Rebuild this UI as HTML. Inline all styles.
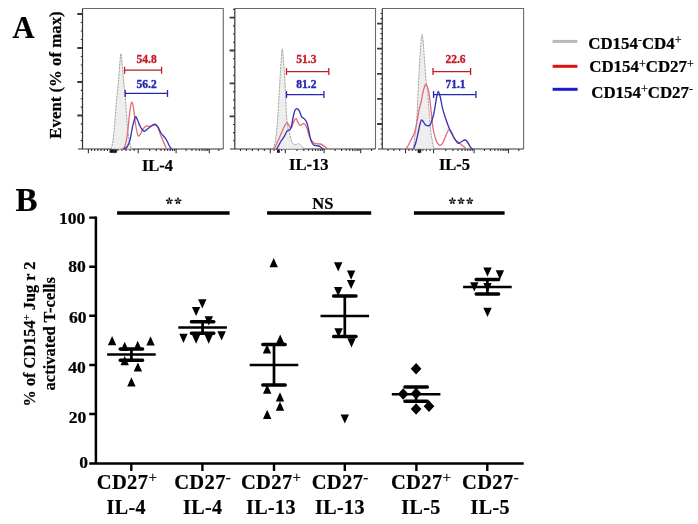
<!DOCTYPE html>
<html><head><meta charset="utf-8"><style>
html,body{margin:0;padding:0;background:#fff;}
svg{display:block;filter:blur(0.3px);}
text{font-family:"Liberation Serif",serif;font-weight:bold;}
text:not([fill]){stroke:#000;stroke-width:0.22px;}
</style></head><body>
<svg width="698" height="524" viewBox="0 0 698 524">
<rect width="698" height="524" fill="#fff"/>
<path d="M82.5 8.5H223.3V149" fill="none" stroke="#6a6a6a" stroke-width="1.1"/>
<path d="M77.3 14H82.5M77.3 48H82.5M77.3 82H82.5M77.3 115.5H82.5" stroke="#3a3a3a" stroke-width="1.8"/>
<path d="M80.7 22.5H82.5M80.7 31H82.5M80.7 39.5H82.5M80.7 56.5H82.5M80.7 65H82.5M80.7 73.5H82.5M80.7 90.38H82.5M80.7 98.75H82.5M80.7 107.12H82.5M80.7 123.88H82.5M80.7 132.25H82.5M80.7 140.62H82.5" stroke="#333" stroke-width="1.1"/>
<rect x="109.6" y="149" width="7.2" height="3.8" fill="#111"/>
<path d="M88.4 149V153.2M113.8 149V153.2M138.2 149V153.2M176.1 149V153.2M209.3 149V153.2M91.58 149V151M94.75 149V151M97.92 149V151M101.1 149V151M104.28 149V151M107.45 149V151M110.62 149V151M117.87 149V151M121.93 149V151M126 149V151M130.07 149V151M134.13 149V151M149.61 149V151M156.28 149V151M161.02 149V151M164.69 149V151M167.69 149V151M170.23 149V151M172.43 149V151M174.37 149V151M186.09 149V151M191.94 149V151M196.09 149V151M199.31 149V151M201.93 149V151M204.16 149V151M206.08 149V151M207.78 149V151M218.8 149V151" stroke="#333" stroke-width="1.1"/>
<path d="M82.5 8.5V149M78 149H223.3" fill="none" stroke="#333" stroke-width="1.2"/>
<path d="M234.8 8.5H375.5V149" fill="none" stroke="#6a6a6a" stroke-width="1.1"/>
<path d="M229.6 17.6H234.8M229.6 50.5H234.8M229.6 83.4H234.8M229.6 116.3H234.8" stroke="#3a3a3a" stroke-width="1.8"/>
<path d="M233 25.83H234.8M233 34.05H234.8M233 42.27H234.8M233 58.73H234.8M233 66.95H234.8M233 75.18H234.8M233 91.62H234.8M233 99.85H234.8M233 108.08H234.8M233 124.47H234.8M233 132.65H234.8M233 140.82H234.8M233 9.38H234.8" stroke="#333" stroke-width="1.1"/>
<rect x="277" y="149" width="2.8" height="3.8" fill="#111"/>
<path d="M270.3 149V153.2M285.3 149V153.2M324.1 149V153.2M360.7 149V153.2M240.47 149V151M246.43 149V151M252.4 149V151M258.37 149V151M264.33 149V151M274.05 149V151M277.8 149V151M281.55 149V151M296.98 149V151M303.81 149V151M308.66 149V151M312.42 149V151M315.49 149V151M318.09 149V151M320.34 149V151M322.32 149V151M335.12 149V151M341.56 149V151M346.14 149V151M349.68 149V151M352.58 149V151M355.03 149V151M357.15 149V151M359.03 149V151M371.6 149V151" stroke="#333" stroke-width="1.1"/>
<path d="M234.8 8.5V149M230 149H375.5" fill="none" stroke="#333" stroke-width="1.2"/>
<path d="M382.3 8.5H523.6V149" fill="none" stroke="#6a6a6a" stroke-width="1.1"/>
<path d="M377.1 23.6H382.3M377.1 48.7H382.3M377.1 73.8H382.3M377.1 98.9H382.3M377.1 124H382.3" stroke="#3a3a3a" stroke-width="1.8"/>
<path d="M380.5 28.62H382.3M380.5 33.64H382.3M380.5 38.66H382.3M380.5 43.68H382.3M380.5 53.72H382.3M380.5 58.74H382.3M380.5 63.76H382.3M380.5 68.78H382.3M380.5 78.82H382.3M380.5 83.84H382.3M380.5 88.86H382.3M380.5 93.88H382.3M380.5 103.92H382.3M380.5 108.94H382.3M380.5 113.96H382.3M380.5 118.98H382.3M380.5 129H382.3M380.5 134H382.3M380.5 139H382.3M380.5 144H382.3M380.5 18.58H382.3M380.5 13.56H382.3" stroke="#333" stroke-width="1.1"/>
<rect x="417.6" y="149" width="3.6" height="3.8" fill="#111"/>
<path d="M405.5 149V153.2M419.3 149V153.2M433.6 149V153.2M474.1 149V153.2M508.5 149V153.2M388.1 149V151M393.9 149V151M399.7 149V151M408.95 149V151M412.4 149V151M415.85 149V151M422.88 149V151M426.45 149V151M430.03 149V151M445.79 149V151M452.92 149V151M457.98 149V151M461.91 149V151M465.12 149V151M467.83 149V151M470.18 149V151M472.25 149V151M484.46 149V151M490.51 149V151M494.81 149V151M498.14 149V151M500.87 149V151M503.17 149V151M505.17 149V151M506.93 149V151M518.8 149V151" stroke="#333" stroke-width="1.1"/>
<path d="M382.3 8.5V149M378 149H523.6" fill="none" stroke="#333" stroke-width="1.2"/>
<path d="M111.2 149C111.5 147.58 112.42 144.7 113 140.5C113.58 136.3 114.15 130.08 114.7 123.8C115.25 117.52 115.68 109.78 116.3 102.8C116.92 95.82 117.8 88.7 118.4 81.9C119 75.1 119.48 66.72 119.9 62C120.32 57.28 120.55 53.6 120.9 53.6C121.25 53.6 121.53 57.28 122 62C122.47 66.72 123.07 75.1 123.7 81.9C124.33 88.7 125.22 95.82 125.8 102.8C126.38 109.78 126.62 117.52 127.2 123.8C127.78 130.08 128.58 136.3 129.3 140.5C130.02 144.7 131.13 147.58 131.5 149Z" fill="#eeeeee" stroke="#9c9c9c" stroke-width="0.9" stroke-dasharray="2.4 0.8"/>
<path d="M273.2 149C273.58 147.58 274.88 144 275.5 140.5C276.12 137 276.48 132.53 276.9 128C277.32 123.47 277.62 119.23 278 113.3C278.38 107.37 278.78 99.38 279.2 92.4C279.62 85.42 280.12 77.63 280.5 71.4C280.88 65.17 281.22 58.77 281.5 55C281.78 51.23 281.95 48.8 282.2 48.8C282.45 48.8 282.65 51.23 283 55C283.35 58.77 283.88 65.17 284.3 71.4C284.72 77.63 285.15 85.42 285.5 92.4C285.85 99.38 286.05 107.7 286.4 113.3C286.75 118.9 287.15 122.87 287.6 126C288.05 129.13 288.33 129.33 289.1 132.1C289.87 134.87 291.15 140.5 292.2 142.6C293.25 144.7 294.35 144.52 295.4 144.7C296.45 144.88 297.47 143.52 298.5 143.7C299.53 143.88 300.73 144.92 301.6 145.8C302.47 146.68 303.35 148.47 303.7 149Z" fill="#eeeeee" stroke="#9c9c9c" stroke-width="0.9" stroke-dasharray="2.4 0.8"/>
<path d="M412 149C412.22 148.67 412.68 150.17 413.3 147C413.92 143.83 415.08 135.33 415.7 130C416.32 124.67 416.6 121.38 417 115C417.4 108.62 417.63 100.87 418.1 91.7C418.57 82.53 419.32 68.28 419.8 60C420.28 51.72 420.62 46.25 421 42C421.38 37.75 421.73 34.5 422.1 34.5C422.47 34.5 422.8 37.75 423.2 42C423.6 46.25 424.03 53.67 424.5 60C424.97 66.33 425.48 74.72 426 80C426.52 85.28 427.1 86.7 427.6 91.7C428.1 96.7 428.48 103.62 429 110C429.52 116.38 430.12 124.67 430.7 130C431.28 135.33 431.95 138.83 432.5 142C433.05 145.17 433.75 147.83 434 149Z" fill="#eeeeee" stroke="#9c9c9c" stroke-width="0.9" stroke-dasharray="2.4 0.8"/>
<path d="M122.5 149C122.92 148.5 124.17 148.67 125 146C125.83 143.33 126.67 139 127.5 133C128.33 127 129.32 115.13 130 110C130.68 104.87 131.02 102.53 131.6 102.2C132.18 101.87 132.85 104.37 133.5 108C134.15 111.63 134.75 119.42 135.5 124C136.25 128.58 137.17 133.83 138 135.5C138.83 137.17 139.67 135.08 140.5 134C141.33 132.92 141.98 130.35 143 129C144.02 127.65 145.43 126.32 146.6 125.9C147.77 125.48 148.57 126.68 150 126.5C151.43 126.32 153.87 124.55 155.2 124.8C156.53 125.05 157.03 126.13 158 128C158.97 129.87 160 133.5 161 136C162 138.5 163.08 140.83 164 143C164.92 145.17 166.08 148 166.5 149" fill="none" stroke="#dc6e74" stroke-width="1.3" stroke-linejoin="round"/>
<path d="M273 149C273.25 148.88 273.83 149.3 274.5 148.3C275.17 147.3 276.08 145 277 143C277.92 141 278.78 139.05 280 136.3C281.22 133.55 283.13 128.77 284.3 126.5C285.47 124.23 286.18 122.78 287 122.7C287.82 122.62 288.47 125.18 289.2 126C289.93 126.82 290.58 128.42 291.4 127.6C292.22 126.78 293.32 122.63 294.1 121.1C294.88 119.57 295.47 118.22 296.1 118.4C296.73 118.58 297.23 121.02 297.9 122.2C298.57 123.38 299.28 125.23 300.1 125.5C300.92 125.77 301.98 123.98 302.8 123.8C303.62 123.62 304.27 123.58 305 124.4C305.73 125.22 306.48 126.72 307.2 128.7C307.92 130.68 308.58 134.3 309.3 136.3C310.02 138.3 310.58 139.52 311.5 140.7C312.42 141.88 313.35 142.85 314.8 143.4C316.25 143.95 318.75 143.63 320.2 144C321.65 144.37 322.42 144.88 323.5 145.6C324.58 146.32 326.03 147.73 326.7 148.3C327.37 148.87 327.37 148.88 327.5 149" fill="none" stroke="#dc6e74" stroke-width="1.3" stroke-linejoin="round"/>
<path d="M406 149C406.5 148.17 408 145.83 409 144C410 142.17 411.05 139.95 412 138C412.95 136.05 413.87 134.97 414.7 132.3C415.53 129.63 416.28 125.72 417 122C417.72 118.28 418.32 113.3 419 110C419.68 106.7 420.43 105.2 421.1 102.2C421.77 99.2 422.28 94.93 423 92C423.72 89.07 424.73 85.6 425.4 84.6C426.07 83.6 426.45 84.85 427 86C427.55 87.15 428.12 88.33 428.7 91.5C429.28 94.67 429.78 98.92 430.5 105C431.22 111.08 432.08 122.17 433 128C433.92 133.83 434.93 137.13 436 140C437.07 142.87 438.4 144.53 439.4 145.2C440.4 145.87 441.28 144.7 442 144C442.72 143.3 442.95 142.67 443.7 141C444.45 139.33 445.6 135.88 446.5 134C447.4 132.12 448.18 129.87 449.1 129.7C450.02 129.53 451.12 131.48 452 133C452.88 134.52 453.4 137.3 454.4 138.8C455.4 140.3 456.73 140.93 458 142C459.27 143.07 460.62 144.03 462 145.2C463.38 146.37 465.58 148.37 466.3 149" fill="none" stroke="#dc6e74" stroke-width="1.3" stroke-linejoin="round"/>
<path d="M123.5 149C124.08 148.67 125.92 148.5 127 147C128.08 145.5 129.08 143.33 130 140C130.92 136.67 131.6 130.85 132.5 127C133.4 123.15 134.57 118.07 135.4 116.9C136.23 115.73 136.73 118.48 137.5 120C138.27 121.52 139.17 124.33 140 126C140.83 127.67 141.75 129.12 142.5 130C143.25 130.88 143.58 131.55 144.5 131.3C145.42 131.05 146.75 129.47 148 128.5C149.25 127.53 150.8 126.22 152 125.5C153.2 124.78 154.2 123.95 155.2 124.2C156.2 124.45 157.03 125.53 158 127C158.97 128.47 159.85 131.22 161 133C162.15 134.78 163.9 136.37 164.9 137.7C165.9 139.03 166.23 139.62 167 141C167.77 142.38 168.78 144.67 169.5 146C170.22 147.33 171 148.5 171.3 149" fill="none" stroke="#3a34b4" stroke-width="1.35" stroke-linejoin="round"/>
<path d="M276 149C276.2 148.88 276.45 149.47 277.2 148.3C277.95 147.13 279.32 144 280.5 142C281.68 140 283.3 137.97 284.3 136.3C285.3 134.63 285.87 133 286.5 132C287.13 131 287.55 130.67 288.1 130.3C288.65 129.93 289.25 130.43 289.8 129.8C290.35 129.17 290.9 128.3 291.4 126.5C291.9 124.7 292.35 121.25 292.8 119C293.25 116.75 293.68 114.53 294.1 113C294.52 111.47 294.9 110.53 295.3 109.8C295.7 109.07 296.05 108.68 296.5 108.6C296.95 108.52 297.5 108.85 298 109.3C298.5 109.75 298.88 110.05 299.5 111.3C300.12 112.55 300.88 115.53 301.7 116.8C302.52 118.07 303.58 118 304.4 118.9C305.22 119.8 305.97 120.75 306.6 122.2C307.23 123.65 307.65 125.25 308.2 127.6C308.75 129.95 309.35 133.93 309.9 136.3C310.45 138.67 310.87 140.35 311.5 141.8C312.13 143.25 312.88 144.37 313.7 145C314.52 145.63 315.5 145.42 316.4 145.6C317.3 145.78 318.1 145.65 319.1 146.1C320.1 146.55 321.67 147.82 322.4 148.3C323.13 148.78 323.32 148.88 323.5 149" fill="none" stroke="#3a34b4" stroke-width="1.35" stroke-linejoin="round"/>
<path d="M413.6 149C414 147.83 415.18 145 416 142C416.82 139 417.83 134 418.5 131C419.17 128 419.48 125.85 420 124C420.52 122.15 421.02 120.23 421.6 119.9C422.18 119.57 422.87 121.18 423.5 122C424.13 122.82 424.37 124.23 425.4 124.8C426.43 125.37 428.6 126.2 429.7 125.4C430.8 124.6 431.28 122.07 432 120C432.72 117.93 433.25 116.67 434 113C434.75 109.33 435.78 101.58 436.5 98C437.22 94.42 437.63 91.5 438.3 91.5C438.97 91.5 439.78 95.13 440.5 98C441.22 100.87 441.77 105.37 442.6 108.7C443.43 112.03 444.42 114.78 445.5 118C446.58 121.22 447.85 125 449.1 128C450.35 131 451.57 133.5 453 136C454.43 138.5 456.37 142 457.7 143C459.03 144 460.03 142.42 461 142C461.97 141.58 462.8 140.87 463.5 140.5C464.2 140.13 464.53 139.55 465.2 139.8C465.87 140.05 466.6 140.73 467.5 142C468.4 143.27 469.73 146.23 470.6 147.4C471.47 148.57 472.35 148.73 472.7 149" fill="none" stroke="#3a34b4" stroke-width="1.35" stroke-linejoin="round"/>
<path d="M124.6 70.2H161.6M124.6 66.7V73.7M161.6 66.7V73.7" stroke="#c41c26" stroke-width="1.3" fill="none"/>
<path d="M125.2 93.4H167.5M125.2 89.9V96.9M167.5 89.9V96.9" stroke="#2626b0" stroke-width="1.3" fill="none"/>
<path d="M286.5 71.6H328.8M286.5 68.1V75.1M328.8 68.1V75.1" stroke="#c41c26" stroke-width="1.3" fill="none"/>
<path d="M286.5 94.6H323.9M286.5 91.1V98.1M323.9 91.1V98.1" stroke="#2626b0" stroke-width="1.3" fill="none"/>
<path d="M433 71.6H470.6M433 68.1V75.1M470.6 68.1V75.1" stroke="#c41c26" stroke-width="1.3" fill="none"/>
<path d="M433.6 94.6H475.9M433.6 91.1V98.1M475.9 91.1V98.1" stroke="#2626b0" stroke-width="1.3" fill="none"/>
<text x="146.6" y="63" font-size="11.5" text-anchor="middle" fill="#c41c26" stroke="#c41c26" stroke-width="0.35">54.8</text>
<text x="146.6" y="88.1" font-size="11.5" text-anchor="middle" fill="#2626b0" stroke="#2626b0" stroke-width="0.35">56.2</text>
<text x="306.4" y="63" font-size="11.5" text-anchor="middle" fill="#c41c26" stroke="#c41c26" stroke-width="0.35">51.3</text>
<text x="306.4" y="88.1" font-size="11.5" text-anchor="middle" fill="#2626b0" stroke="#2626b0" stroke-width="0.35">81.2</text>
<text x="455.5" y="63" font-size="11.5" text-anchor="middle" fill="#c41c26" stroke="#c41c26" stroke-width="0.35">22.6</text>
<text x="455.5" y="88.1" font-size="11.5" text-anchor="middle" fill="#2626b0" stroke="#2626b0" stroke-width="0.35">71.1</text>
<text x="157.5" y="171.2" font-size="16.5" text-anchor="middle" >IL-4</text>
<text x="308.7" y="169.6" font-size="16.5" text-anchor="middle" >IL-13</text>
<text x="454.5" y="169.6" font-size="16.5" text-anchor="middle" >IL-5</text>
<text x="12.4" y="38.1" font-size="30.5" text-anchor="start" >A</text>
<text transform="translate(60.9 75.0) rotate(-90)" font-size="16.8" text-anchor="middle">Event (% of max)</text>
<path d="M552.6 41.4H577.4" stroke="#b8b8b8" stroke-width="3"/>
<path d="M552.6 66.3H577.4" stroke="#e01010" stroke-width="3"/>
<path d="M552.6 89.3H577.6" stroke="#1c1cc8" stroke-width="3"/>
<text x="588.2" y="48.9" font-size="16.9">CD154<tspan font-size="12" font-weight="normal" dy="-4.6">-</tspan><tspan dy="4.6">CD4</tspan><tspan font-size="12" font-weight="normal" dy="-4.6">+</tspan></text>
<text x="589.2" y="72.3" font-size="16.9">CD154<tspan font-size="12" font-weight="normal" dy="-4.6">+</tspan><tspan dy="4.6">CD27</tspan><tspan font-size="12" font-weight="normal" dy="-4.6">+</tspan></text>
<text x="591.2" y="97.6" font-size="16.9">CD154<tspan font-size="12" font-weight="normal" dy="-4.6">+</tspan><tspan dy="4.6">CD27</tspan><tspan font-size="12" font-weight="normal" dy="-4.6">-</tspan></text>
<text x="15.6" y="210.6" font-size="33" text-anchor="start" >B</text>
<path d="M95.9 216.4V464.7M89.2 463.5H523.7" stroke="#000" stroke-width="2.5" fill="none"/>
<path d="M89.2 217.6H95.9M89.2 266.7H95.9M89.2 315.7H95.9M89.2 365H95.9M89.2 414H95.9M131.3 463.5V471M202.4 463.5V471M274 463.5V471M344.8 463.5V471M416.4 463.5V471M487.3 463.5V471" stroke="#000" stroke-width="2.4" fill="none"/>
<text x="85.4" y="223.9" font-size="17.6" text-anchor="end" >100</text>
<text x="85.9" y="272.4" font-size="17.6" text-anchor="end" >80</text>
<text x="86.5" y="322.8" font-size="17.6" text-anchor="end" >60</text>
<text x="85.9" y="373.2" font-size="17.6" text-anchor="end" >40</text>
<text x="86.4" y="422.7" font-size="17.6" text-anchor="end" >20</text>
<text x="88" y="467.9" font-size="17.6" text-anchor="end" >0</text>
<text transform="translate(34.6 334) rotate(-90)" font-size="16.3" text-anchor="middle">% of CD154<tspan font-size="11" font-weight="normal" dy="-5">+</tspan><tspan dy="5"> Jug r 2</tspan></text>
<text transform="translate(54.6 333.8) rotate(-90)" font-size="16.5" text-anchor="middle">activated T-cells</text>
<text x="127" y="489.1" font-size="20.5" text-anchor="middle" letter-spacing="0.4">CD27<tspan font-size="15" font-weight="normal" dy="-7.3">+</tspan></text>
<text x="126.2" y="513.7" font-size="20" text-anchor="middle" letter-spacing="0.4">IL-4</text>
<text x="202.7" y="489.1" font-size="20.5" text-anchor="middle" letter-spacing="0.4">CD27<tspan font-size="15" font-weight="normal" dy="-7.3">-</tspan></text>
<text x="202.7" y="513.7" font-size="20" text-anchor="middle" letter-spacing="0.4">IL-4</text>
<text x="271.2" y="489.1" font-size="20.5" text-anchor="middle" letter-spacing="0.4">CD27<tspan font-size="15" font-weight="normal" dy="-7.3">+</tspan></text>
<text x="271" y="513.7" font-size="20" text-anchor="middle" letter-spacing="0.4">IL-13</text>
<text x="340.2" y="489.1" font-size="20.5" text-anchor="middle" letter-spacing="0.4">CD27<tspan font-size="15" font-weight="normal" dy="-7.3">-</tspan></text>
<text x="339.9" y="513.7" font-size="20" text-anchor="middle" letter-spacing="0.4">IL-13</text>
<text x="421.2" y="489.1" font-size="20.5" text-anchor="middle" letter-spacing="0.4">CD27<tspan font-size="15" font-weight="normal" dy="-7.3">+</tspan></text>
<text x="420.9" y="513.7" font-size="20" text-anchor="middle" letter-spacing="0.4">IL-5</text>
<text x="490.5" y="489.1" font-size="20.5" text-anchor="middle" letter-spacing="0.4">CD27<tspan font-size="15" font-weight="normal" dy="-7.3">-</tspan></text>
<text x="490.2" y="513.7" font-size="20" text-anchor="middle" letter-spacing="0.4">IL-5</text>
<path d="M117.1 213H229.6M267.1 213H371.2M413.9 213H504.6" stroke="#000" stroke-width="3.6"/>
<g fill="#111"><circle cx="169.3" cy="200.9" r="0.8" fill="#777"/><ellipse cx="169.3" cy="198.8" rx="1.5" ry="0.88" transform="rotate(-90 169.3 198.8)"/><ellipse cx="171.35" cy="200.46" rx="1.5" ry="0.88" transform="rotate(-12 171.35 200.46)"/><ellipse cx="170.47" cy="202.64" rx="1.5" ry="0.88" transform="rotate(56 170.47 202.64)"/><ellipse cx="168.13" cy="202.64" rx="1.5" ry="0.88" transform="rotate(124 168.13 202.64)"/><ellipse cx="167.25" cy="200.46" rx="1.5" ry="0.88" transform="rotate(192 167.25 200.46)"/><circle cx="178" cy="200.9" r="0.8" fill="#777"/><ellipse cx="178" cy="198.8" rx="1.5" ry="0.88" transform="rotate(-90 178 198.8)"/><ellipse cx="180.05" cy="200.46" rx="1.5" ry="0.88" transform="rotate(-12 180.05 200.46)"/><ellipse cx="179.17" cy="202.64" rx="1.5" ry="0.88" transform="rotate(56 179.17 202.64)"/><ellipse cx="176.83" cy="202.64" rx="1.5" ry="0.88" transform="rotate(124 176.83 202.64)"/><ellipse cx="175.95" cy="200.46" rx="1.5" ry="0.88" transform="rotate(192 175.95 200.46)"/><circle cx="452.4" cy="200.9" r="0.8" fill="#777"/><ellipse cx="452.4" cy="198.8" rx="1.5" ry="0.88" transform="rotate(-90 452.4 198.8)"/><ellipse cx="454.45" cy="200.46" rx="1.5" ry="0.88" transform="rotate(-12 454.45 200.46)"/><ellipse cx="453.57" cy="202.64" rx="1.5" ry="0.88" transform="rotate(56 453.57 202.64)"/><ellipse cx="451.23" cy="202.64" rx="1.5" ry="0.88" transform="rotate(124 451.23 202.64)"/><ellipse cx="450.35" cy="200.46" rx="1.5" ry="0.88" transform="rotate(192 450.35 200.46)"/><circle cx="461.1" cy="200.9" r="0.8" fill="#777"/><ellipse cx="461.1" cy="198.8" rx="1.5" ry="0.88" transform="rotate(-90 461.1 198.8)"/><ellipse cx="463.15" cy="200.46" rx="1.5" ry="0.88" transform="rotate(-12 463.15 200.46)"/><ellipse cx="462.27" cy="202.64" rx="1.5" ry="0.88" transform="rotate(56 462.27 202.64)"/><ellipse cx="459.93" cy="202.64" rx="1.5" ry="0.88" transform="rotate(124 459.93 202.64)"/><ellipse cx="459.05" cy="200.46" rx="1.5" ry="0.88" transform="rotate(192 459.05 200.46)"/><circle cx="469.8" cy="200.9" r="0.8" fill="#777"/><ellipse cx="469.8" cy="198.8" rx="1.5" ry="0.88" transform="rotate(-90 469.8 198.8)"/><ellipse cx="471.85" cy="200.46" rx="1.5" ry="0.88" transform="rotate(-12 471.85 200.46)"/><ellipse cx="470.97" cy="202.64" rx="1.5" ry="0.88" transform="rotate(56 470.97 202.64)"/><ellipse cx="468.63" cy="202.64" rx="1.5" ry="0.88" transform="rotate(124 468.63 202.64)"/><ellipse cx="467.75" cy="200.46" rx="1.5" ry="0.88" transform="rotate(192 467.75 200.46)"/></g>
<text x="322.9" y="209" font-size="16.5" text-anchor="middle">NS</text>
<path d="M112.1 336.1L116.3 345.3L107.9 345.3ZM150.5 336.2L154.7 345.4L146.3 345.4ZM124.7 341.8L128.9 351L120.5 351ZM137.7 340.7L141.9 349.9L133.5 349.9ZM124.7 356L128.9 365.2L120.5 365.2ZM137.9 362.4L142.1 371.6L133.7 371.6ZM131.4 377.2L135.6 386.4L127.2 386.4ZM198.1 299.3L206.5 299.3L202.3 308.5ZM191.9 306.9L200.3 306.9L196.1 316.1ZM204.6 316.2L213 316.2L208.8 325.4ZM179.3 333.8L187.7 333.8L183.5 343ZM191.9 334.6L200.3 334.6L196.1 343.8ZM204.5 334.6L212.9 334.6L208.7 343.8ZM217.4 331.3L225.8 331.3L221.6 340.5ZM273.7 258L277.9 267.2L269.5 267.2ZM280.2 334.5L284.4 343.7L276 343.7ZM267 344.3L271.2 353.5L262.8 353.5ZM267.2 384.6L271.4 393.8L263 393.8ZM280 392.2L284.2 401.4L275.8 401.4ZM280 401.5L284.2 410.7L275.8 410.7ZM267.2 409.8L271.4 419L263 419ZM334 262.2L342.4 262.2L338.2 271.4ZM346.9 270.6L355.3 270.6L351.1 279.8ZM346.9 279.9L355.3 279.9L351.1 289.1ZM334 287L342.4 287L338.2 296.2ZM334.4 328.2L342.8 328.2L338.6 337.4ZM347.3 338.2L355.7 338.2L351.5 347.4ZM340.6 414.4L349 414.4L344.8 423.6ZM416.1 362.9L421.4 368.7L416.1 374.5L410.8 368.7ZM403.2 388.2L408.5 394L403.2 399.8L397.9 394ZM416.1 387.8L421.4 393.6L416.1 399.4L410.8 393.6ZM416.1 403.2L421.4 409L416.1 414.8L410.8 409ZM429 400.4L434.3 406.2L429 412L423.7 406.2ZM483.3 267.4L491.7 267.4L487.5 276.6ZM495.7 270.2L504.1 270.2L499.9 279.4ZM470.1 282.3L478.5 282.3L474.3 291.5ZM483.3 283L491.7 283L487.5 292.2ZM483.3 307.7L491.7 307.7L487.5 316.9Z" fill="#000"/>
<path d="M107.1 354.4H155.7" stroke="#000" stroke-width="2.5"/>
<path d="M120.2 348.9H142.6M120.2 360.3H142.6" stroke="#000" stroke-width="3.5" stroke-linecap="round"/>
<path d="M131.4 348.9V360.3" stroke="#000" stroke-width="2.7"/>
<path d="M178.3 327.5H226.9" stroke="#000" stroke-width="2.5"/>
<path d="M191.4 321.7H213.8M191.4 333.3H213.8" stroke="#000" stroke-width="3.5" stroke-linecap="round"/>
<path d="M202.6 321.7V333.3" stroke="#000" stroke-width="2.7"/>
<path d="M249.7 365H298.3" stroke="#000" stroke-width="2.5"/>
<path d="M262.8 344.5H285.2M262.8 385H285.2" stroke="#000" stroke-width="3.5" stroke-linecap="round"/>
<path d="M274 344.5V385" stroke="#000" stroke-width="2.7"/>
<path d="M320.5 316H369.1" stroke="#000" stroke-width="2.5"/>
<path d="M333.6 295.9H356M333.6 336.4H356" stroke="#000" stroke-width="3.5" stroke-linecap="round"/>
<path d="M344.8 295.9V336.4" stroke="#000" stroke-width="2.7"/>
<path d="M391.8 394.2H440.4" stroke="#000" stroke-width="2.5"/>
<path d="M404.9 387H427.3M404.9 401.3H427.3" stroke="#000" stroke-width="3.5" stroke-linecap="round"/>
<path d="M416.1 387V401.3" stroke="#000" stroke-width="2.7"/>
<path d="M463.1 287H511.7" stroke="#000" stroke-width="2.5"/>
<path d="M476.2 279.5H498.6M476.2 294H498.6" stroke="#000" stroke-width="3.5" stroke-linecap="round"/>
<path d="M487.4 279.5V294" stroke="#000" stroke-width="2.7"/>
</svg>
</body></html>
